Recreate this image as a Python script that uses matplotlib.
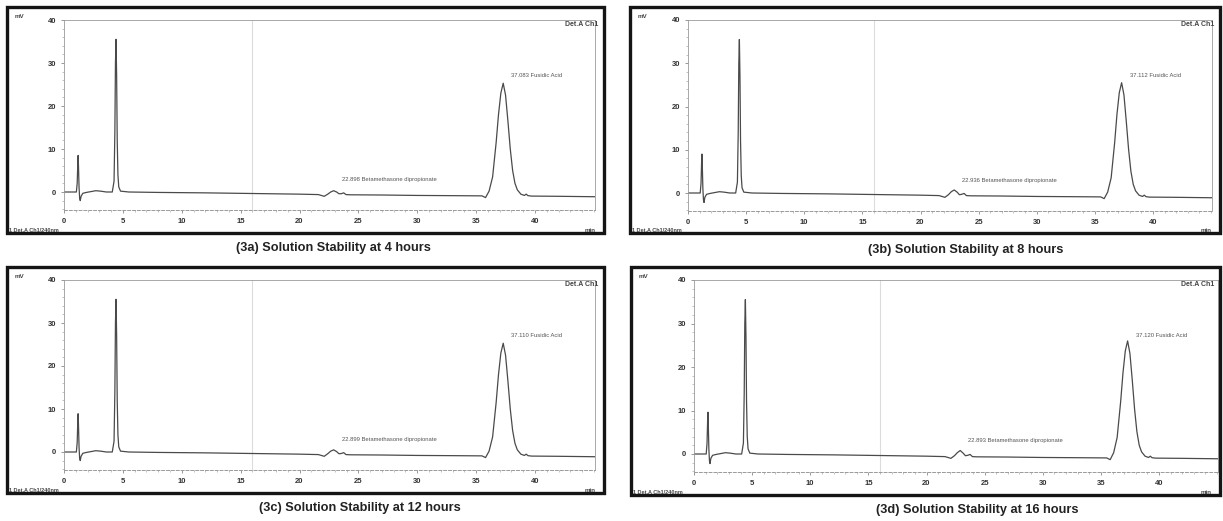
import numpy as np
import matplotlib
matplotlib.use("Agg")
import matplotlib.pyplot as plt
from matplotlib.patches import Rectangle
from matplotlib.ticker import MultipleLocator

plt.rcParams['font.family'] = ['Liberation Sans', 'DejaVu Sans']

W, H = 1223, 521

# ---------------- data (retention time in min, detector signal in mV) -------------
time_min = [0.0, 1.05, 1.12, 1.17, 1.2, 1.23, 1.28, 1.33, 1.38, 1.45, 1.6, 1.9, 2.3, 2.7,
            3.1, 3.6, 4.1, 4.25, 4.32, 4.37, 4.42, 4.47, 4.52, 4.58, 4.65, 4.8, 5.5, 8.0,
            12.0, 16.0, 20.0, 21.6, 22.1, 22.4, 22.65, 22.9, 23.15, 23.35, 23.55, 23.75,
            23.95, 24.3, 27.0, 30.0, 33.0, 35.5, 35.8, 36.1, 36.4, 36.7, 36.9, 37.1, 37.3,
            37.5, 37.7, 37.9, 38.1, 38.3, 38.5, 38.8, 39.1, 39.25, 39.4, 39.7, 42.0, 45.1]

signal_4h = [0.0, 0.0, 2.0, 6.5, 8.5, 6.0, 1.0, -1.5, -2.0, -1.0, -0.3, -0.1, 0.1, 0.3,
             0.2, 0.0, 0.0, 2.5, 14.0, 30.0, 35.5, 27.0, 12.0, 4.0, 1.2, 0.2, 0.0, -0.1,
             -0.2, -0.35, -0.5, -0.6, -1.0, -0.5, 0.0, 0.3, 0.0, -0.4, -0.4, -0.2,
             -0.6, -0.65, -0.7, -0.8, -0.85, -0.9, -1.3, 0.2, 3.5, 11.5, 18.0, 23.0, 25.3,
             22.5, 16.5, 10.0, 5.0, 2.0, 0.5, -0.5, -0.8, -0.5, -0.85, -0.95, -1.0, -1.1]

signal_8h = [0.0, 0.0, 2.2, 7.0, 9.0, 6.4, 1.0, -1.6, -2.2, -1.0, -0.3, -0.1, 0.1, 0.3,
             0.2, 0.0, 0.0, 2.5, 14.0, 30.0, 35.5, 27.0, 12.0, 4.0, 1.2, 0.2, 0.0, -0.1,
             -0.2, -0.35, -0.5, -0.6, -1.0, -0.4, 0.3, 0.7, 0.2, -0.4, -0.3, -0.1,
             -0.6, -0.65, -0.7, -0.8, -0.85, -0.9, -1.3, 0.2, 3.5, 11.6, 18.2, 23.2, 25.5,
             22.7, 16.6, 10.1, 5.0, 2.0, 0.5, -0.5, -0.8, -0.5, -0.85, -0.95, -1.0, -1.1]

signal_12h = [0.0, 0.0, 2.2, 7.0, 8.9, 6.3, 1.0, -1.5, -2.0, -1.0, -0.3, -0.1, 0.1, 0.3,
              0.2, 0.0, 0.0, 2.5, 14.0, 30.0, 35.5, 27.0, 12.0, 4.0, 1.2, 0.2, 0.0, -0.1,
              -0.2, -0.35, -0.5, -0.6, -1.0, -0.4, 0.2, 0.5, 0.1, -0.4, -0.35, -0.15,
              -0.6, -0.65, -0.7, -0.8, -0.85, -0.9, -1.3, 0.2, 3.5, 11.5, 18.0, 23.0, 25.3,
              22.5, 16.5, 10.0, 5.0, 2.0, 0.5, -0.5, -0.8, -0.5, -0.85, -0.95, -1.0, -1.1]

signal_16h = [0.0, 0.0, 2.4, 7.5, 9.6, 6.8, 1.1, -1.6, -2.2, -1.0, -0.3, -0.1, 0.1, 0.3,
              0.2, 0.0, 0.0, 2.5, 14.0, 30.0, 35.5, 27.0, 12.0, 4.0, 1.2, 0.2, 0.0, -0.1,
              -0.2, -0.35, -0.5, -0.6, -1.0, -0.4, 0.3, 0.8, 0.2, -0.4, -0.3, -0.1,
              -0.6, -0.65, -0.7, -0.8, -0.85, -0.9, -1.3, 0.3, 3.8, 12.0, 18.6, 23.7, 26.0,
              23.1, 17.0, 10.3, 5.1, 2.0, 0.5, -0.5, -0.8, -0.5, -0.85, -0.95, -1.0, -1.1]

captions = ["(3a) Solution Stability at 4 hours",
            "(3b) Solution Stability at 8 hours",
            "(3c) Solution Stability at 12 hours",
            "(3d) Solution Stability at 16 hours"]

fusidic_labels = ["37.083 Fusidic Acid", "37.112 Fusidic Acid",
                  "37.110 Fusidic Acid", "37.120 Fusidic Acid"]
beta_labels = ["22.898 Betamethasone dipropionate", "22.936 Betamethasone dipropionate",
               "22.899 Betamethasone dipropionate", "22.893 Betamethasone dipropionate"]

y_ticks = [0, 10, 20, 30, 40]
x_ticks = [0, 5, 10, 15, 20, 25, 30, 35, 40]

signals = [signal_4h, signal_8h, signal_12h, signal_16h]

# ---------------- layout (pixel geometry of each panel) ----------------
# frame (left, top, right, bottom), x-pixel of 0 min, x-pixel of 40 min, y-pixel of 40 mV, y-pixel of 0 mV
layout = [
    ((7, 7, 604, 233), 64, 535, 20, 192, (333, 248)),
    ((630, 7, 1220, 233), 688, 1153, 20, 193, (966, 250)),
    ((7, 267, 604, 493), 64, 535, 280, 452, (360, 508)),
    ((631, 267, 1220, 495), 694, 1159, 280, 454, (977, 510)),
]

XMAX = 45.1
YMIN = -4.2

fig = plt.figure(figsize=(W / 100, H / 100), dpi=100)
fig.patch.set_facecolor('white')


def fx(px):
    return px / W


def fy(py):
    return 1 - py / H


for i, (frame, ox, x40, y40, y0, cap) in enumerate(layout):
    ppm = (x40 - ox) / 40.0
    ppv = (y0 - y40) / 40.0
    left = ox
    right = ox + XMAX * ppm
    top = y40
    bottom = y0 - YMIN * ppv
    ax = fig.add_axes([fx(left), fy(bottom), (right - left) / W, (bottom - top) / H])
    ax.set_xlim(0, XMAX)
    ax.set_ylim(YMIN, 40)

    ax.axvline(16.0, color='#dcdcdc', lw=0.8, zorder=0)
    ax.plot(time_min, signals[i], color='#4a4a4a', lw=0.9)

    for s in ['top', 'right', 'left']:
        ax.spines[s].set_color('#9a9a9a')
        ax.spines[s].set_linewidth(0.6)
    ax.spines['bottom'].set_color('#9a9a9a')
    ax.spines['bottom'].set_linewidth(0.7)
    ax.spines['bottom'].set_linestyle((0, (3, 2)))

    ax.set_yticks(y_ticks)
    ax.set_xticks(x_ticks)
    ax.yaxis.set_minor_locator(MultipleLocator(2))
    ax.xaxis.set_minor_locator(MultipleLocator(1))
    ax.tick_params(axis='both', which='major', length=2.5, width=0.6, color='#888888',
                   labelsize=5.5, labelcolor='#333333', pad=3)
    ax.tick_params(axis='both', which='minor', length=1.5, width=0.5, color='#aaaaaa')
    for lab in ax.get_xticklabels() + ax.get_yticklabels():
        lab.set_fontweight('bold')

    ax.text(38.0, 27.2, fusidic_labels[i], fontsize=4.2, color='#555555',
            ha='left', va='center')
    ax.text(23.6, 3.0, beta_labels[i], fontsize=4.2, color='#555555',
            ha='left', va='center')

    fl, ft, fr, fb = frame
    fig.patches.append(Rectangle((fx(fl), fy(fb)), (fr - fl) / W, (fb - ft) / H,
                                 transform=fig.transFigure, fill=False,
                                 edgecolor='#151515', lw=2.4))
    fig.text(fx(fl + 8), fy(ft + 10), "mV", fontsize=4.5, color='#444444',
             ha='left', va='center', fontweight='bold')
    fig.text(fx(fr - 6), fy(ft + 18), "Det.A Ch1", fontsize=5, color='#444444',
             ha='right', va='center', fontweight='bold')
    fig.text(fx(fr - 8), fy(fb - 3), "min", fontsize=4.5, color='#444444',
             ha='right', va='center', fontweight='bold')
    fig.text(fx(fl + 2), fy(fb - 3), "1 Det.A Ch1/240nm", fontsize=4, color='#444444',
             ha='left', va='center', fontweight='bold')
    fig.text(fx(cap[0]), fy(cap[1]), captions[i], fontsize=9.2, color='#222222',
             ha='center', va='center', fontweight='bold')

fig.savefig("out.png", dpi=100, facecolor='white')
